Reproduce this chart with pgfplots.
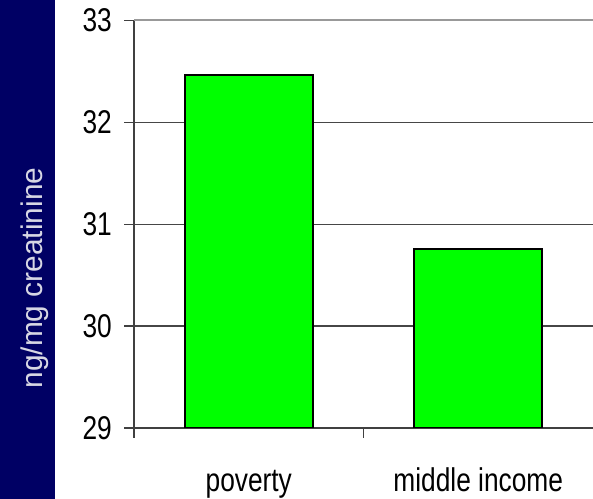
\documentclass[border=0pt]{standalone}
\usepackage{pgfplots}
\pgfplotsset{compat=1.18}
\usepackage{fontspec}
\setmainfont{Liberation Sans}
\newfontfamily\narrowfont[FakeStretch=0.8]{Liberation Sans}
\definecolor{navy}{RGB}{0,0,100}
\definecolor{labelgray}{RGB}{215,215,228}
\definecolor{bargreen}{RGB}{0,255,0}
\definecolor{axisgray}{RGB}{64,64,64}
\definecolor{gridgray}{RGB}{70,70,70}
\begin{document}
\begin{tikzpicture}[x=1bp,y=1bp]
\useasboundingbox (0,0) rectangle (593,499);
\fill[white] (0,0) rectangle (593,499);
\fill[navy] (0,0) rectangle (55,499);
\node[rotate=90, anchor=base, text=labelgray, font=\fontsize{30}{34}\selectfont, inner sep=0pt] at (42,221) {ng/mg creatinine};
\begin{axis}[
  at={(134bp,71bp)}, anchor=south west,
  scale only axis, width=459bp, height=407.6bp,
  xmin=-0.5, xmax=1.5, ymin=29, ymax=33,
  axis x line*=bottom, axis y line*=left,
  axis line style={-, draw=axisgray, line width=1.5bp},
  ytick={29,30,31,32},
  extra y ticks={33}, extra y tick style={grid style={draw=gray!80, line width=1.8bp}},
  xtick={-0.5,0.5}, xticklabels={},
  ymajorgrids, grid style={draw=gridgray, line width=1.3bp},
  tick align=outside, major tick length=10bp,
  tick style={draw=axisgray, line width=1.3bp},
  /pgf/number format/assume math mode=true,
  ticklabel style={font=\narrowfont\fontsize{33}{36}\selectfont},
  yticklabel style={anchor=east, inner sep=0pt, xshift=-12bp},
  extra x ticks={0,1}, extra x tick labels={poverty, middle income},
  extra x tick style={major tick length=0bp, xticklabel style={anchor=base, inner sep=0pt, yshift=-63bp}},
]
\addplot[ybar, bar width=0.557, fill=bargreen, draw=black, line width=2bp] coordinates {(0,32.46) (1,30.76)};
\end{axis}
\end{tikzpicture}
\end{document}
